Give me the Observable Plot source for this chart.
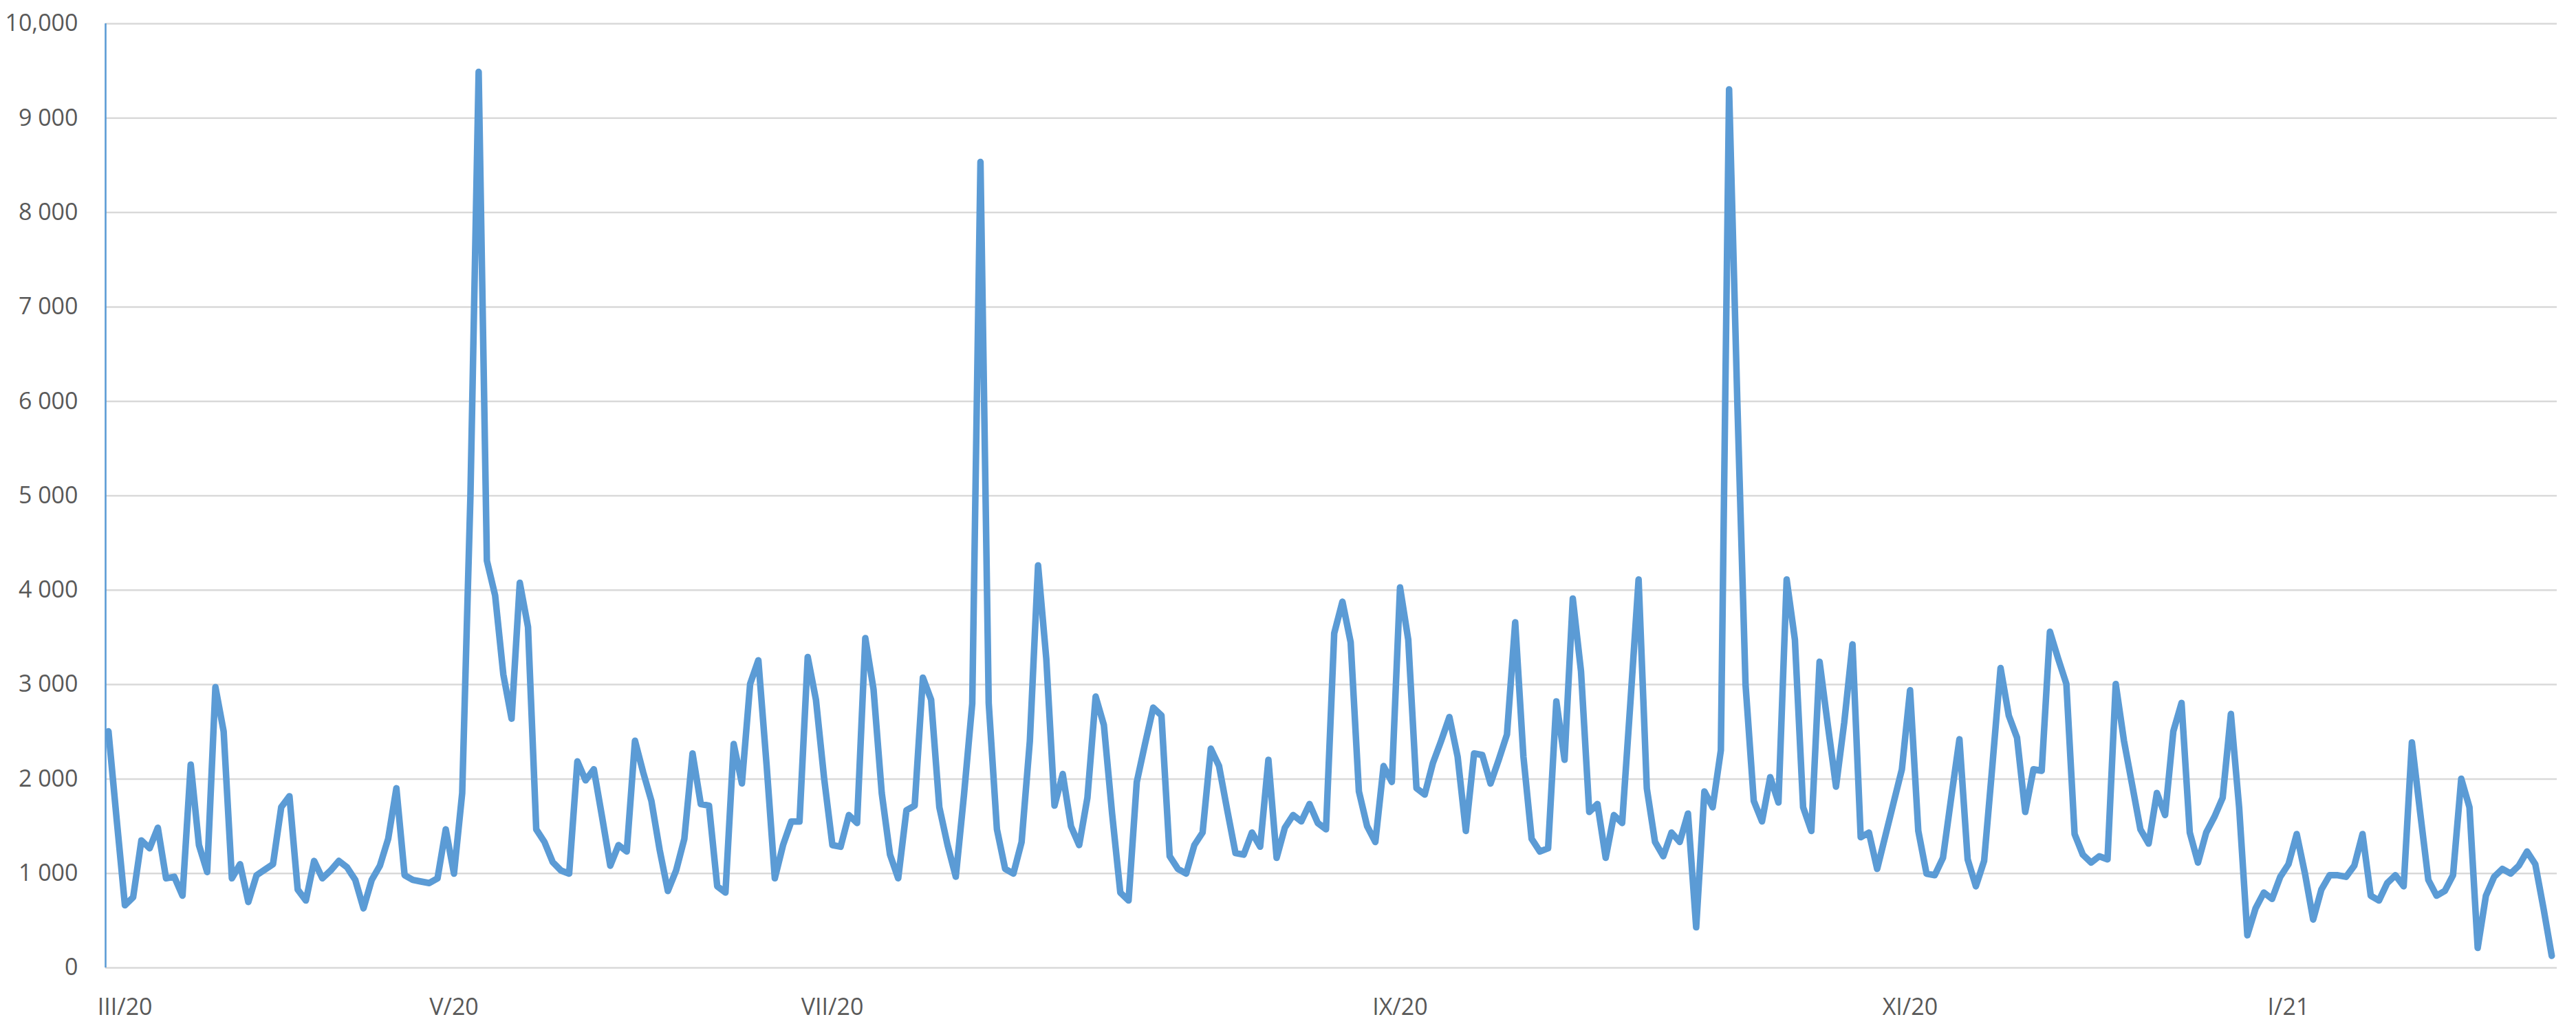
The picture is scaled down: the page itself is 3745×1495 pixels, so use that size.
<!DOCTYPE html>
<html>
<head>
<meta charset="utf-8">
<script src="https://cdn.jsdelivr.net/npm/d3@7"></script>
<script src="https://cdn.jsdelivr.net/npm/@observablehq/plot@0.6"></script>
<style>
  html, body { margin: 0; padding: 0; background: #ffffff; }
  #chart svg { display: block; }
</style>
</head>
<body>
<div id="chart"></div>
<script>
// Daily counts (one value per category row)
const values = [
  2505, 1570, 663, 747, 1350, 1266, 1484, 948, 964, 764,
  2153, 1300, 1015, 2974, 2505, 948, 1098, 697, 981, 1040,
  1098, 1701, 1818, 830, 713, 1132, 948, 1030, 1132, 1065,
  931, 630, 931, 1082, 1366, 1902, 981, 931, 914, 898,
  948, 1467, 998, 1852, 5000, 9490, 4313, 3945, 3108, 2639,
  4079, 3610, 1467, 1333, 1120, 1031, 998, 2187, 1986, 2103,
  1600, 1082, 1300, 1232, 2405, 2070, 1768, 1250, 814, 1031,
  1366, 2271, 1735, 1718, 864, 797, 2371, 1953, 3007, 3258,
  2150, 948, 1300, 1550, 1550, 3292, 2840, 2003, 1300, 1283,
  1618, 1534, 3493, 2950, 1850, 1200, 948, 1668, 1718, 3074,
  2840, 1700, 1300, 965, 1835, 2800, 8536, 2806, 1467, 1048,
  998, 1333, 2400, 4263, 3275, 1718, 2053, 1500, 1300, 1802,
  2873, 2572, 1634, 797, 713, 1969, 2371, 2756, 2673, 1182,
  1048, 998, 1300, 1433, 2321, 2137, 1668, 1216, 1199, 1433,
  1283, 2204, 1165, 1484, 1618, 1551, 1735, 1534, 1467, 3543,
  3878, 3449, 1869, 1500, 1333, 2137, 1969, 4029, 3476, 1902,
  1835, 2170, 2405, 2656, 2237, 1450, 2271, 2254, 1952, 2204,
  2472, 3660, 2237, 1366, 1232, 1266, 2823, 2204, 3912, 3141,
  1651, 1735, 1165, 1618, 1534, 2806, 4113, 1900, 1333, 1182,
  1433, 1333, 1634, 429, 1869, 1701, 2304, 9305, 6000, 3000,
  1768, 1551, 2020, 1752, 4113, 3476, 1701, 1450, 3242, 2572,
  1919, 2600, 3426, 1383, 1433, 1048, 1400, 1750, 2100, 2940,
  1450, 998, 981, 1165, 1802, 2421, 1149, 864, 1132, 2137,
  3175, 2672, 2438, 1651, 2103, 2087, 3560, 3275, 3007, 1417,
  1199, 1115, 1182, 1149, 3007, 2405, 1936, 1467, 1316, 1852,
  1618, 2505, 2806, 1433, 1115, 1433, 1600, 1802, 2689, 1700,
  345, 630, 797, 730, 964, 1098, 1417, 1000, 512, 830,
  981, 981, 964, 1082, 1417, 764, 713, 898, 981, 864,
  2388, 1650, 931, 764, 814, 981, 2003, 1701, 211, 764,
  964, 1048, 998, 1082, 1232, 1098, 630, 127
];

// Category rows that carry an x-axis label, and those labels
const xTickRows = [2, 42, 88, 157, 219, 265];
const xTickLabels = ["III/20", "V/20", "VII/20", "IX/20", "XI/20", "I/21"];

// Value axis ticks and labels (as printed in the original)
const yTicks = [0, 1000, 2000, 3000, 4000, 5000, 6000, 7000, 8000, 9000, 10000];
const yTickLabels = ["0", "1 000", "2 000", "3 000", "4 000", "5 000", "6 000", "7 000", "8 000", "9 000", "10,000"];

// ---- build table for the library
const data = values.map((v, i) => ({row: i, value: v}));
const xLabelMap = new Map(xTickRows.map((r, i) => [r, xTickLabels[i]]));
const yLabelMap = new Map(yTicks.map((t, i) => [t, yTickLabels[i]]));
const xDomain = [-0.35, values.length - 1 + 0.65];

const blue = "#5B9BD5";
const grid = "#D9D9D9";
const textColor = "#595959";

const chart = Plot.plot({
  width: 3745,
  height: 1495,
  marginLeft: 153,
  marginRight: 28,
  marginTop: 34,
  marginBottom: 88,
  style: {
    fontFamily: "'Open Sans', 'DejaVu Sans', sans-serif",
    fontSize: "34px",
    color: textColor,
    background: "#ffffff",
    overflow: "visible"
  },
  x: {
    type: "linear",
    domain: xDomain,
    ticks: xTickRows,
    tickFormat: d => xLabelMap.get(d),
    tickSize: 0,
    tickPadding: 44,
    label: null
  },
  y: {
    domain: [0, 10000],
    ticks: yTicks,
    tickFormat: d => yLabelMap.get(d),
    tickSize: 0,
    tickPadding: 40,
    label: null
  },
  marks: [
    Plot.ruleY(yTicks, {stroke: grid, strokeWidth: 2.5}),
    Plot.ruleX([xDomain[0]], {y1: 0, y2: 10000, stroke: blue, strokeWidth: 2.6}),
    Plot.line(data, {
      x: "row",
      y: "value",
      stroke: blue,
      strokeWidth: 9.5,
      strokeLinejoin: "round",
      strokeLinecap: "round"
    })
  ]
});

document.getElementById("chart").appendChild(chart);
</script>
</body>
</html>
